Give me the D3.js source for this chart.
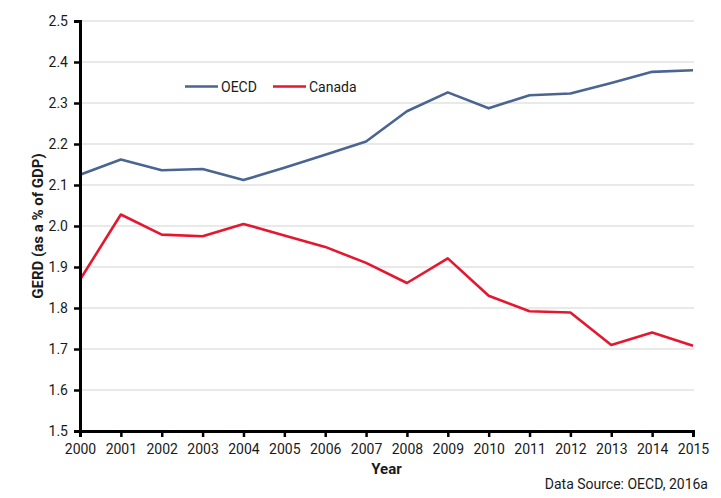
<!DOCTYPE html>
<html><head><meta charset="utf-8">
<script src="https://cdn.jsdelivr.net/npm/d3@7"></script>
<style>
body{margin:0;background:#fff;}
text{font-family:Roboto,"Open Sans",sans-serif;fill:#1a1a1a;}
</style></head><body>
<svg id="chart" width="721" height="498"></svg>
<script>
const years = [2000,2001,2002,2003,2004,2005,2006,2007,2008,2009,2010,2011,2012,2013,2014,2015];
const oecd = [2.125,2.162,2.136,2.139,2.112,2.142,2.174,2.206,2.280,2.326,2.287,2.319,2.323,2.349,2.376,2.380];
const canada = [1.869,2.028,1.979,1.975,2.005,1.977,1.949,1.910,1.861,1.921,1.830,1.792,1.789,1.710,1.740,1.708];
const yTicks = [1.5,1.6,1.7,1.8,1.9,2.0,2.1,2.2,2.3,2.4,2.5];
const seriesNames = ["OECD","Canada"];
const colors = ["#4a6591","#e5172f"];

const svg = d3.select("#chart");
const m = {left:80, right:28, top:21, bottom:67};
const W = 721, H = 498;
const x = d3.scaleLinear().domain([2000,2015]).range([m.left, W-m.right]);
const y = d3.scaleLinear().domain([1.5,2.5]).range([H-m.bottom, m.top]);

// gridlines
svg.append("g").selectAll("line").data(yTicks.slice(1)).join("line")
  .attr("x1", x(2000)).attr("x2", x(2015)+1)
  .attr("y1", d=>y(d)).attr("y2", d=>y(d))
  .attr("stroke","#d4d4d4").attr("stroke-width",1.2);

// lines
const line = d3.line().x((d,i)=>x(years[i])).y(d=>y(d));
[oecd, canada].forEach((s,k)=>{
  svg.append("path").datum(s).attr("d", line)
    .attr("fill","none").attr("stroke",colors[k]).attr("stroke-width",2.6)
    .attr("stroke-linejoin","round");
});

// axes
const yAxis = d3.axisLeft(y).tickValues(yTicks).tickFormat(d3.format(".1f")).tickSize(6).tickPadding(6);
const gy = svg.append("g").attr("transform",`translate(${m.left},0)`).call(yAxis);
const xAxis = d3.axisBottom(x).tickValues(years).tickFormat(d3.format("d")).tickSize(6).tickPadding(7);
const gx = svg.append("g").attr("transform",`translate(0,${H-m.bottom})`).call(xAxis);
[gx,gy].forEach(g=>{
  g.select(".domain").attr("stroke","#000").attr("stroke-width",3);
  g.selectAll(".tick line").attr("stroke","#000").attr("stroke-width",2.5);
  g.selectAll(".tick text").style("font-size","14px").attr("fill","#1a1a1a");
});

// axis titles
svg.append("text").attr("transform",`translate(43,${(y(1.5)+y(2.5))/2}) rotate(-90)`)
  .attr("text-anchor","middle").style("font-size","15px").style("font-weight","bold").text("GERD (as a % of GDP)");
svg.append("text").attr("x",(x(2000)+x(2015))/2).attr("y",474)
  .attr("text-anchor","middle").style("font-size","15px").style("font-weight","bold").text("Year");
svg.append("text").attr("x",708).attr("y",489)
  .attr("text-anchor","end").style("font-size","14px").text("Data Source: OECD, 2016a");

// legend
const legX = [185, 273];
seriesNames.forEach((n,k)=>{
  svg.append("line").attr("x1",legX[k]).attr("x2",legX[k]+33).attr("y1",86.5).attr("y2",86.5)
    .attr("stroke",colors[k]).attr("stroke-width",2.6);
  svg.append("text").attr("x",legX[k]+36).attr("y",91.7).style("font-size","14px").text(n);
});
</script></body></html>
